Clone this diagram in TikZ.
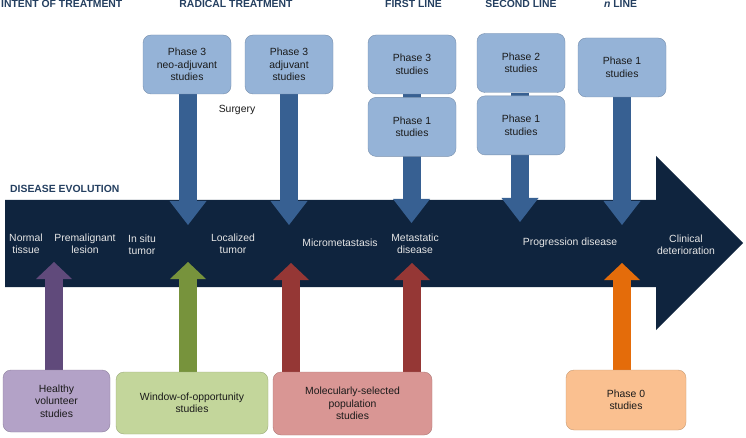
\documentclass[tikz,border=0pt]{standalone}
\usepackage{fontspec}
\setmainfont{Liberation Sans}
\usetikzlibrary{positioning, arrows.meta, backgrounds}

\definecolor{evolnavy}{HTML}{0F243E}
\definecolor{headblue}{HTML}{243F60}
\definecolor{flowblue}{HTML}{376092}
\definecolor{phaseblue}{HTML}{95B3D7}
\definecolor{volfill}{HTML}{B3A2C7}
\definecolor{volflow}{HTML}{604A7B}
\definecolor{winfill}{HTML}{C3D69B}
\definecolor{winflow}{HTML}{77933C}
\definecolor{molfill}{HTML}{D99694}
\definecolor{molflow}{HTML}{953735}
\definecolor{zerofill}{HTML}{FAC090}
\definecolor{zeroflow}{HTML}{E46C0A}
\definecolor{stagegray}{HTML}{E6E6E6}
\definecolor{boxtext}{HTML}{1A1A1A}

\begin{document}
\begin{tikzpicture}[x=1pt,y=-1pt,node distance=3pt,
      every node/.style={font=\fontsize{10.4pt}{12.5pt}\selectfont},
      head node/.style={font=\fontsize{10.4pt}{12.5pt}\selectfont\bfseries,text=headblue,inner sep=0pt},
      phase node/.style={rounded corners=8pt,fill=phaseblue,draw=phaseblue!80!black,
        text=boxtext,align=center,minimum width=88pt,minimum height=59pt,inner sep=2pt},
      study node/.style={rounded corners=8pt,fill=#1,draw=#1!80!black,
        text=boxtext,align=center,inner sep=2pt},
      stage node/.style={text=stagegray,align=center,inner sep=0pt},
      down flow/.style={line width=18pt,draw=flowblue,
        -{Triangle[width=37pt,length=24pt,line width=0pt]}},
      up flow/.style={line width=17.5pt,draw=#1,
        -{Triangle[width=36pt,length=17pt,line width=0pt]}}]

    \useasboundingbox (0,0) rectangle (746,438);

    % headings
    \node[head node,anchor=base west] (intent) at (1,7.5) {INTENT OF TREATMENT};
    \node[head node,anchor=base] (radical) at (236,7.5) {RADICAL TREATMENT};
    \node[head node,anchor=base] (firstline) at (413.5,7.5) {FIRST LINE};
    \node[head node,anchor=base] (secondline) at (521,7.5) {SECOND LINE};
    \node[head node,anchor=base] (nline) at (620.5,7.5) {\textit{n} LINE};
    \node[head node,anchor=base west] (evolution) at (10,193) {DISEASE EVOLUTION};

    % treatment studies
    \node[phase node] (neo) at (187,64.5) {Phase 3\\neo-adjuvant\\studies};
    \node[phase node] (adj) at (289,64.5) {Phase 3\\adjuvant\\studies};
    \node[phase node] (first3) at (412,64.5) {Phase 3\\studies};
    \node[phase node] (first1) [below=of first3] {Phase 1\\studies};
    \node[phase node] (second2) at (521,63) {Phase 2\\studies};
    \node[phase node] (second1) [below=of second2] {Phase 1\\studies};
    \node[phase node] (nth1) at (622,67.5) {Phase 1\\studies};
    \node[anchor=base,text=boxtext] (surgery) at (237,113) {Surgery};

    % other studies
    \node[study node=volfill,minimum width=107pt,minimum height=62pt] (healthy) at (56.5,401) {Healthy\\volunteer\\studies};
    \node[study node=winfill,minimum width=152pt,minimum height=62pt] (window) at (192,403) {Window-of-opportunity\\studies};
    \node[study node=molfill,minimum width=159pt,minimum height=63pt] (molecular) at (352.5,403.5) {Molecularly-selected\\population\\studies};
    \node[study node=zerofill,minimum width=120pt,minimum height=60pt] (phase0) at (626,400) {Phase 0\\studies};

    % stages
    \node[stage node] (normal) at (26,244) {Normal\\tissue};
    \node[stage node] (premalignant) at (85,244) {Premalignant\\lesion};
    \node[stage node] (insitu) at (142,245) {In situ\\tumor};
    \node[stage node] (localized) at (233,244) {Localized\\tumor};
    \node[stage node] (micro) at (340,243) {Micrometastasis};
    \node[stage node] (metastatic) at (415,244) {Metastatic\\disease};
    \node[stage node] (progression) at (570,243) {Progression disease};
    \node[stage node] (clinical) at (686,245) {Clinical\\deterioration};

    \begin{scope}[on background layer]
        \fill[evolnavy] (5,200) -- (656,200) -- (656,156) -- (743,243)
            -- (656,330) -- (656,287) -- (5,287) -- cycle;

        \coordinate (neotip) at (188,225);
        \coordinate (adjtip) at (289,225);
        \coordinate (firsttip) at (411.5,223);
        \coordinate (secondtip) at (520,222);
        \coordinate (nthtip) at (622,225);
        \coordinate (voltip) at (54,262);
        \coordinate (wintip) at (188,262);
        \coordinate (moltipa) at (291,263);
        \coordinate (moltipb) at (412,263);
        \coordinate (zerotip) at (622,263);

        \draw[down flow] (neotip |- neo.south) -- (neotip);
        \draw[down flow] (adjtip |- adj.south) -- (adjtip);
        \draw[down flow] (firsttip |- first3.south) -- (firsttip);
        \draw[down flow] (secondtip |- second2.south) -- (secondtip);
        \draw[down flow] (nthtip |- nth1.south) -- (nthtip);

        \draw[up flow=volflow] (voltip |- healthy.north) -- (voltip);
        \draw[up flow=winflow] (wintip |- window.north) -- (wintip);
        \draw[up flow=molflow] (moltipa |- molecular.north) -- (moltipa);
        \draw[up flow=molflow] (moltipb |- molecular.north) -- (moltipb);
        \draw[up flow=zeroflow] (zerotip |- phase0.north) -- (zerotip);
    \end{scope}
\end{tikzpicture}
\end{document}
